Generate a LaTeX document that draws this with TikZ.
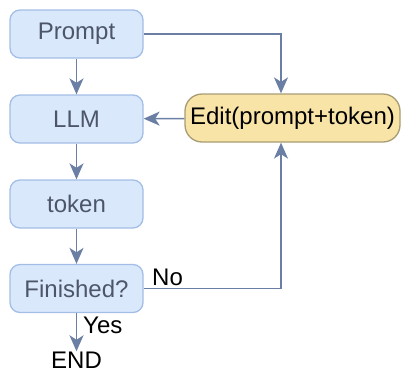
\documentclass[tikz,border=0pt]{standalone}
\usepackage{fontspec}
\setmainfont{Liberation Sans}
\usetikzlibrary{arrows.meta}
\definecolor{bfill}{HTML}{DAE8FC}
\definecolor{bline}{HTML}{A3BEE6}
\definecolor{btext}{HTML}{4C5668}
\definecolor{yfill}{HTML}{F9E4A7}
\definecolor{yline}{HTML}{A89C74}
\definecolor{conn}{HTML}{6A7FA3}
\tikzset{
  bluebox/.style={draw=bline, fill=bfill, line width=1.3pt, rounded corners=10pt,
    minimum width=133pt, minimum height=48pt, inner sep=0pt, text=btext,
    font=\fontsize{24}{28}\selectfont},
  yellowbox/.style={draw=yline, fill=yfill, line width=1.3pt, rounded corners=17pt,
    minimum width=215pt, minimum height=48pt, inner sep=0pt, text=black,
    font=\fontsize{24}{28}\selectfont},
  lbl/.style={inner sep=0pt, text=black, font=\fontsize{24}{28}\selectfont},
  conn/.style={draw=conn, line width=1.5pt,
    -{Stealth[length=16pt,width=14pt,inset=4.5pt]}},
}
\begin{document}
\begin{tikzpicture}[x=1pt,y=-1pt]
\useasboundingbox (0,0) rectangle (401,370);
\node[bluebox] (prompt) at (76.5,34) {Prompt};
\node[bluebox] (llm) at (76.5,119) {LLM};
\node[bluebox] (token) at (76.5,204) {token};
\node[bluebox] (fin) at (76.5,288.5) {Finished?};
\node[yellowbox] (edit) at (292.5,118) {Edit(prompt+token)};
\node[lbl, anchor=base, inner sep=1pt] (end) at (76.5,368) {END};
\node[lbl, anchor=base west] (yes) at (83,333) {Yes};
\node[lbl, anchor=base west] (no) at (152,285) {No};
\coordinate (ex) at (281,0);
\draw[conn] (prompt) -- (llm);
\draw[conn] (llm) -- (token);
\draw[conn] (token) -- (fin);
\draw[conn] (prompt.east) -| (ex |- edit.north);
\draw[conn] (fin.east) -| (ex |- edit.south);
\draw[conn] (edit) -- (llm);
\draw[conn] (fin.south) -- ([yshift=-1pt]end.north);
\end{tikzpicture}
\end{document}
